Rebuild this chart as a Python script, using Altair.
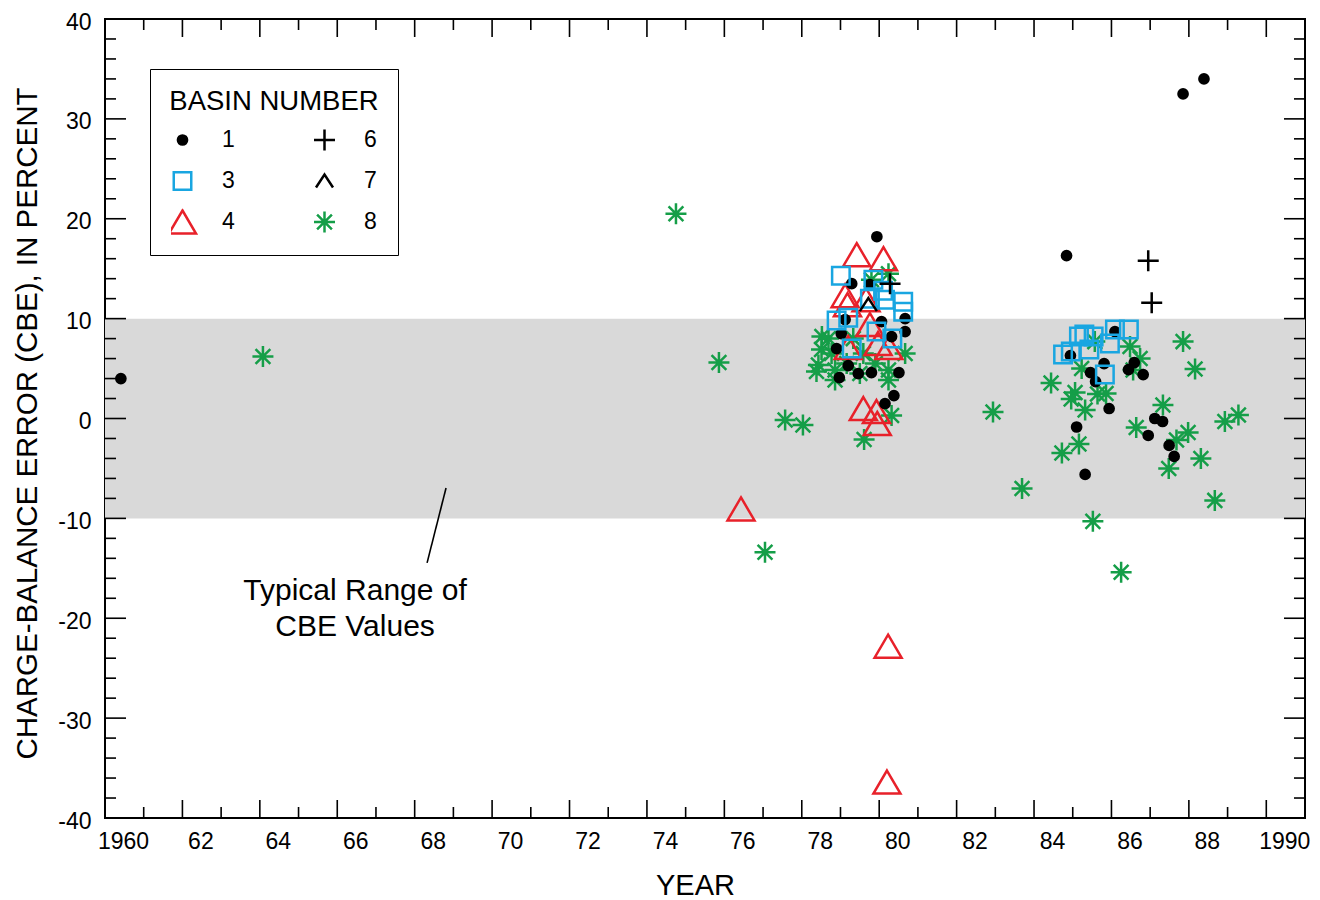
import altair as alt
import pandas as pd

W, H = 1200, 799
FONT = "Liberation Sans"

# ---------------- data ----------------
b1_year = [1960.41, 1979.94, 1979.29, 1979.76, 1979.12, 1980.06, 1980.67, 1979.02, 1980.32,
           1980.67, 1978.90, 1979.20, 1978.97, 1979.46, 1979.80, 1980.51, 1980.38, 1980.15,
           1984.84, 1986.09, 1984.94, 1985.81, 1985.46, 1985.59, 1986.59, 1986.44, 1986.82,
           1985.94, 1985.10, 1987.12, 1987.32, 1986.95, 1987.49, 1987.62, 1985.32, 1987.85,
           1988.39]
b1_cbe = [4.0, 18.2, 13.5, 13.4, 9.9, 9.7, 10.0, 8.5, 8.2,
          8.7, 7.0, 5.3, 4.1, 4.5, 4.6, 4.6, 2.3, 1.5,
          16.3, 8.7, 6.3, 5.5, 4.6, 3.7, 5.6, 4.9, 4.4,
          1.0, -0.85, 0.0, -0.3, -1.7, -2.7, -3.8, -5.6, 32.5,
          34.0]

b3_year = [1979.01, 1979.85, 1980.10, 1979.76, 1980.15, 1980.62, 1980.62, 1979.20, 1978.90,
           1979.93, 1980.34, 1979.29,
           1984.75, 1984.95, 1985.16, 1985.30, 1985.54, 1985.43, 1985.96, 1986.09, 1986.45,
           1985.83]
b3_cbe = [14.3, 13.9, 12.8, 12.0, 11.9, 11.7, 10.7, 10.1, 9.8,
          8.7, 8.0, 7.0,
          6.4, 6.7, 8.2, 8.4, 8.2, 6.9, 7.5, 8.9, 8.9,
          4.4]

b4_year = [1976.43, 1980.23, 1980.20, 1979.42, 1980.11, 1979.12, 1979.18, 1979.66, 1979.76,
           1979.20, 1979.97, 1980.25, 1979.59, 1979.93, 1979.95]
b4_cbe = [-9.06, -22.8, -36.4, 16.4, 16.0, 12.3, 11.4, 11.9, 9.4,
          7.1, 7.5, 7.1, 1.0, 0.7, -0.5]

b6_year = [1980.28, 1986.95, 1987.04]
b6_cbe = [13.5, 15.8, 11.6]

b7_year = [1979.72]
b7_cbe = [11.4]

b8_year = [1964.08, 1974.75, 1975.86, 1977.05, 1977.57, 1978.03, 1979.61, 1982.94, 1983.69,
           1984.44, 1984.72, 1985.52, 1986.25, 1987.85, 1988.16, 1988.31, 1988.67, 1988.93,
           1989.28, 1987.98, 1987.48, 1987.33, 1987.68, 1986.64, 1985.06, 1984.96, 1985.32,
           1985.64, 1985.86, 1985.16, 1986.48, 1986.74, 1986.56, 1985.57, 1985.23,
           1980.24, 1979.80, 1978.69, 1978.51, 1978.43, 1978.38, 1978.77, 1978.86, 1979.16,
           1979.59, 1979.90, 1980.24, 1980.24, 1980.67, 1980.32, 1979.50, 1979.33, 1978.52,
           1978.86]
b8_cbe = [6.2, 20.5, 5.6, -13.4, -0.15, -0.65, -2.1, 0.65, -7.0,
          3.55, -3.45, -10.3, -15.4, 7.7, 4.95, -4.0, -8.2, -0.3,
          0.35, -1.4, -5.0, 1.35, -2.15, -0.9, 2.6, 1.95, 0.85,
          2.45, 2.5, -2.55, 7.2, 6.0, 4.85, 7.7, 5.0,
          14.5, 13.9, 8.0, 6.9, 5.35, 4.7, 6.5, 4.85, 5.5,
          6.5, 5.5, 4.85, 3.85, 6.5, 0.3, 4.5, 8.0, 8.2,
          3.85]

band_low = [-10]
band_high = [10]

note_lines = ["Typical Range of", "CBE Values"]
note_year = [1966.46, 1966.46]
note_cbe = [-17.3, -20.9]

leader_year = [1968.81]
leader_year2 = [1968.32]
leader_cbe = [-6.96]
leader_cbe2 = [-14.46]

x_major = list(range(1960, 1991, 2))
x_minor = list(range(1961, 1991, 2))
y_major = list(range(-40, 41, 10))
y_minor = [v for v in range(-40, 41, 2) if v % 10 != 0]

# legend order (legend fills column by column: 1,3,4 then 6,7,8)
basins = ["1", "3", "4", "6", "7", "8"]
shape_paths = [
    "M-0.46,0A0.46,0.46,0,1,0,0.46,0A0.46,0.46,0,1,0,-0.46,0Z",             # 1 dot
    "M-0.875,-0.875H0.875V0.875H-0.875Z",                                   # 3 square
    "M0,-1.15L1.35,1.15L-1.35,1.15Z",                                       # 4 triangle
    "M-1.05,0H1.05M0,-1.05V1.05",                                           # 6 plus
    "M-0.85,0.65L0,-0.65L0.85,0.65",                                        # 7 caret
    "M-1.05,0H1.05M0,-1.05V1.05M-0.74,-0.74L0.74,0.74M-0.74,0.74L0.74,-0.74",  # 8 asterisk
]
stroke_colors = ["#000000", "#19a6e1", "#e8212a", "#000000", "#000000", "#159e48"]
fill_colors = ["#000000", "transparent", "transparent", "transparent", "transparent", "transparent"]

# drawing order: 8 first, then 4, 1, 3, 6, 7 on top
parts = []
for name, ys, vs in [("8", b8_year, b8_cbe), ("4", b4_year, b4_cbe), ("1", b1_year, b1_cbe),
                     ("3", b3_year, b3_cbe), ("6", b6_year, b6_cbe), ("7", b7_year, b7_cbe)]:
    parts.append(pd.DataFrame({"year": ys, "cbe": vs, "basin": name}))
points = pd.concat(parts, ignore_index=True)

xscale = alt.Scale(domain=[1960, 1991], nice=False, zero=False)
yscale = alt.Scale(domain=[-40, 40], nice=False, zero=False)

x_axis = alt.Axis(
    values=x_major,
    labelExpr="datum.value == 1960 || datum.value == 1990 ? '' + datum.value : substring('' + datum.value, 2, 4)",
    labelOffset=18, labelFlush=False, labelOverlap=False,
    ticks=False, tickSize=0, domain=False, grid=False,
    labelFont=FONT, labelFontSize=23, labelColor="black", labelPadding=12,
    title="YEAR", titleFont=FONT, titleFontSize=29, titleFontWeight="normal",
    titleColor="black", titleX=590, titleY=67, titleBaseline="middle", titleAlign="center",
)
y_axis = alt.Axis(
    values=y_major, labelExpr="'' + datum.value",
    ticks=False, tickSize=0, domain=False, grid=False,
    labelFont=FONT, labelFontSize=23, labelColor="black", labelPadding=14, labelOffset=3,
    title="CHARGE-BALANCE ERROR (CBE), IN PERCENT", titleFont=FONT, titleFontSize=29.5,
    titleFontWeight="normal", titleColor="black", titleX=-78, titleY=404,
    titleBaseline="middle", titleAlign="center",
)

leg = alt.Legend(
    title="BASIN NUMBER", orient="none", legendX=45, legendY=50, columns=2,
    padding=19, strokeColor="black", fillColor="white",
    titleFont=FONT, titleFontSize=27.5, titleFontWeight="normal", titleColor="black",
    titleAnchor="middle", titlePadding=11, titleLimit=600,
    labelFont=FONT, labelFontSize=23, labelColor="black", labelOffset=28,
    symbolSize=400, symbolStrokeWidth=2.5, symbolOpacity=1,
    clipHeight=27, rowPadding=14, columnPadding=78,
)

band = alt.Chart(pd.DataFrame({"lo": band_low, "hi": band_high})).mark_rect(
    color="#d9d9d9"
).encode(
    x=alt.value(0), x2=alt.value(W),
    y=alt.Y("lo:Q", scale=yscale, axis=y_axis), y2="hi:Q",
)

leader = alt.Chart(pd.DataFrame({"x": leader_year, "x2": leader_year2,
                                 "y": leader_cbe, "y2": leader_cbe2})).mark_rule(
    color="black", strokeWidth=1.6
).encode(
    x=alt.X("x:Q", scale=xscale, axis=x_axis), x2="x2:Q",
    y=alt.Y("y:Q", scale=yscale, axis=y_axis), y2="y2:Q",
)

note = alt.Chart(pd.DataFrame({"x": note_year, "y": note_cbe, "t": note_lines})).mark_text(
    font=FONT, fontSize=30, color="black", align="center", baseline="middle"
).encode(
    x=alt.X("x:Q", scale=xscale, axis=x_axis),
    y=alt.Y("y:Q", scale=yscale, axis=y_axis),
    text="t:N",
)


def xticks(vals, length):
    df = pd.DataFrame({"t": vals})
    base = alt.Chart(df).mark_rule(color="black", strokeWidth=1.6)
    b = base.encode(x=alt.X("t:Q", scale=xscale, axis=x_axis), y=alt.value(H), y2=alt.value(H - length))
    t = base.encode(x=alt.X("t:Q", scale=xscale, axis=x_axis), y=alt.value(0), y2=alt.value(length))
    return [b, t]


def yticks(vals, length):
    df = pd.DataFrame({"t": vals})
    base = alt.Chart(df).mark_rule(color="black", strokeWidth=1.6)
    l = base.encode(y=alt.Y("t:Q", scale=yscale, axis=y_axis), x=alt.value(0), x2=alt.value(length))
    r = base.encode(y=alt.Y("t:Q", scale=yscale, axis=y_axis), x=alt.value(W), x2=alt.value(W - length))
    return [l, r]


ticks = xticks(x_major, 18) + xticks(x_minor, 11) + yticks(y_major, 21) + yticks(y_minor, 11)

pts = alt.Chart(points).mark_point(size=400, strokeWidth=2.5, opacity=1, filled=False).encode(
    x=alt.X("year:Q", scale=xscale, axis=x_axis),
    y=alt.Y("cbe:Q", scale=yscale, axis=y_axis),
    shape=alt.Shape("basin:N", scale=alt.Scale(domain=basins, range=shape_paths), legend=leg),
    stroke=alt.Stroke("basin:N", scale=alt.Scale(domain=basins, range=stroke_colors), legend=leg),
    fill=alt.Fill("basin:N", scale=alt.Scale(domain=basins, range=fill_colors), legend=leg),
)

chart = alt.layer(band, leader, *ticks, pts, note).properties(
    width=W, height=H,
    padding={"left": 97, "top": 11, "right": 7, "bottom": 81},
    autosize=alt.AutoSizeParams(type="none"),
).configure_view(stroke="black", strokeWidth=2)

chart.save("out.html", embed_options={"renderer": "svg", "actions": False})
